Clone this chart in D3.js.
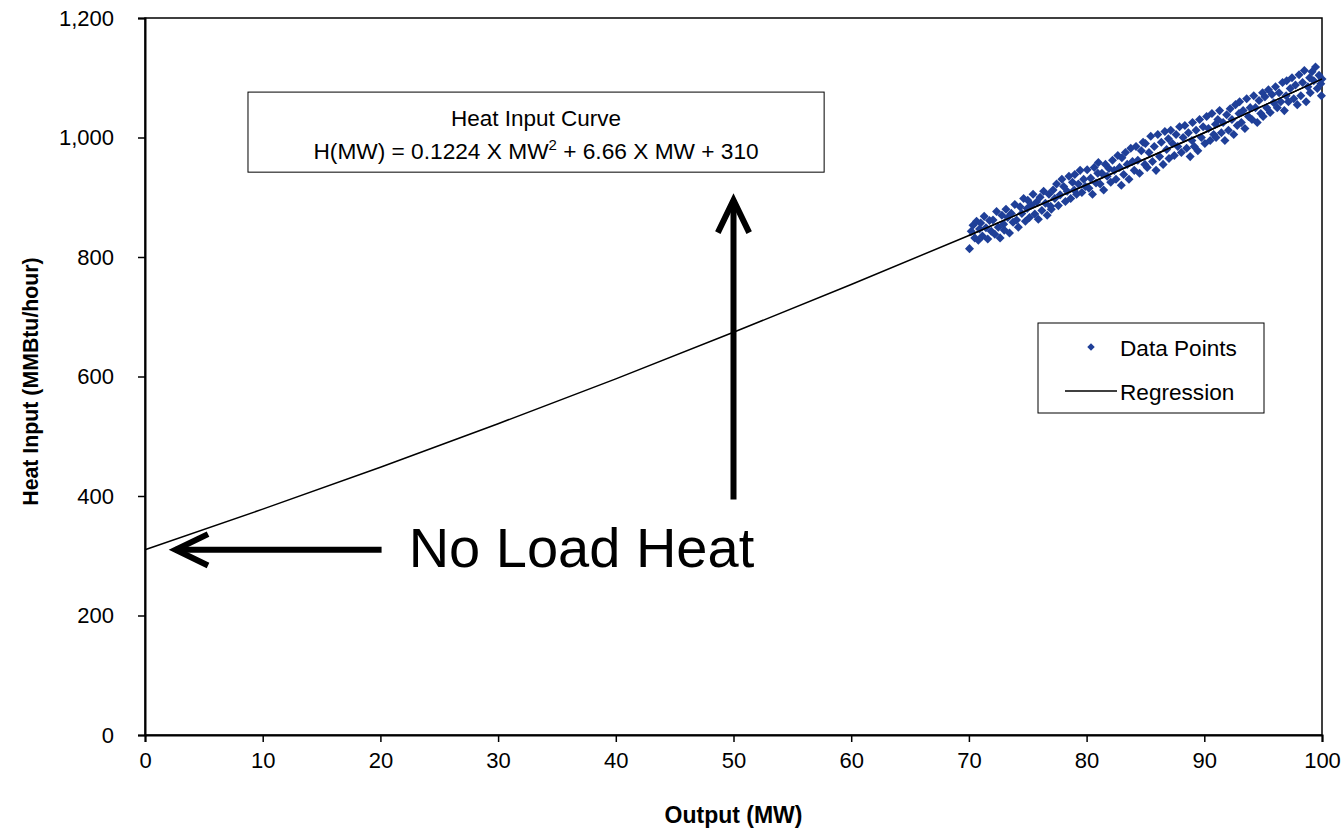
<!DOCTYPE html>
<html><head><meta charset="utf-8">
<script src="https://cdn.jsdelivr.net/npm/d3@7/dist/d3.min.js"></script>
<style>
html,body{margin:0;padding:0;background:#fff;}
text{font-family:"Liberation Sans",Arial,sans-serif;fill:#000;}
</style></head>
<body><svg id="c" width="1344" height="830"></svg>
<script>
// ---- data ----
const xTicks = [0,10,20,30,40,50,60,70,80,90,100];
const yTicks = [0,200,400,600,800,1000,1200];
const regressionMW   = [0,10,20,30,40,50,60,70,80,90,100];
const regressionHeat = [310,378,448,521,596,674,754,836,921,1008,1098];
const pointsMW = [
70.05,70.2,70.35,70.5,70.65,70.8,70.9,
71.0,71.15,71.3,71.45,71.6,71.75,71.9,
72.05,72.2,72.35,72.5,72.65,72.8,72.95,
73.0,73.15,73.3,73.45,73.6,73.75,73.9,
74.05,74.2,74.35,74.5,74.65,74.8,74.95,
75.0,75.15,75.3,75.45,75.6,75.75,75.9,
76.05,76.2,76.35,76.5,76.65,76.8,76.95,
77.0,77.15,77.3,77.45,77.6,77.75,77.9,
78.05,78.2,78.35,78.5,78.65,78.8,78.95,
79.0,79.15,79.3,79.45,79.6,79.75,79.9,
80.05,80.2,80.35,80.5,80.65,80.8,80.95,
81.0,81.15,81.3,81.45,81.6,81.75,81.9,
82.05,82.2,82.35,82.5,82.65,82.8,82.95,
83.0,83.15,83.3,83.45,83.6,83.75,83.9,
84.05,84.2,84.35,84.5,84.65,84.8,84.95,
85.0,85.15,85.3,85.45,85.6,85.75,85.9,
86.05,86.2,86.35,86.5,86.65,86.8,86.95,
87.0,87.15,87.3,87.45,87.6,87.75,87.9,
88.05,88.2,88.35,88.5,88.65,88.8,88.95,
89.0,89.15,89.3,89.45,89.6,89.75,89.9,
90.05,90.2,90.35,90.5,90.65,90.8,90.95,
91.0,91.15,91.3,91.45,91.6,91.75,91.9,
92.05,92.2,92.35,92.5,92.65,92.8,92.95,
93.0,93.15,93.3,93.45,93.6,93.75,93.9,
94.05,94.2,94.35,94.5,94.65,94.8,94.95,
95.0,95.15,95.3,95.45,95.6,95.75,95.9,
96.05,96.2,96.35,96.5,96.65,96.8,96.95,
97.0,97.15,97.3,97.45,97.6,97.75,97.9,
98.05,98.2,98.35,98.5,98.65,98.8,98.95,
99.0,99.15,99.3,99.45,99.6,99.75,99.9,99.95,100.0
];
const pointsHeat = [
814,843,853,832,860,828,847,
857,835,868,849,830,861,843,
862,838,876,850,832,870,855,
845,880,866,840,873,858,888,
862,850,884,873,898,860,881,
895,866,887,905,872,892,863,
900,878,910,890,870,905,885,
880,912,898,922,886,904,930,
918,893,910,935,898,925,912,
938,905,922,945,908,930,918,
946,915,932,905,950,924,940,
958,922,940,912,955,935,948,
925,962,945,930,970,950,920,
966,938,975,955,930,982,960,
945,985,962,940,978,992,955,
990,950,975,1002,960,985,945,
1005,968,992,955,1010,980,998,
965,1012,990,970,1005,985,1018,
975,1000,1020,982,1008,968,995,
1025,985,1012,978,1030,1000,1018,
990,1035,1015,995,1040,1005,1022,
1000,1030,1045,1008,1025,995,1038,
1012,1048,1030,1005,1055,1020,1040,
1060,1025,1045,1015,1065,1035,1050,
1030,1070,1050,1025,1062,1040,1075,
1035,1068,1050,1080,1042,1072,1058,
1085,1050,1075,1060,1092,1045,1070,
1095,1060,1082,1100,1065,1088,1055,
1105,1070,1092,1112,1060,1085,1100,
1075,1110,1095,1118,1082,1104,1090,1070,1098
];
const titleLines = ["Heat Input Curve"];
const legendLabels = ["Data Points","Regression"];

// ---- chart ----
const svg = d3.select("#c");
const L=145, R=1322, T=18, B=735;
const x = d3.scaleLinear().domain([0,100]).range([L,R]);
const y = d3.scaleLinear().domain([0,1200]).range([B,T]);
const blue = "#1F3F98";
const FF = "Liberation Sans, Arial, sans-serif";

// frame
svg.append("rect").attr("x",L).attr("y",T).attr("width",R-L).attr("height",B-T)
  .attr("fill","none").attr("stroke","#000").attr("stroke-width",1.5);

// axes
const yAxis = svg.append("g").attr("transform",`translate(${L},0)`)
  .call(d3.axisLeft(y).tickValues(yTicks).tickSize(7).tickPadding(24).tickFormat(d3.format(",")));
const xAxis = svg.append("g").attr("transform",`translate(0,${B})`)
  .call(d3.axisBottom(x).tickValues(xTicks).tickSize(7).tickPadding(10).tickFormat(d3.format("d")));
[yAxis,xAxis].forEach(a=>{
  a.selectAll(".domain").attr("stroke","#000").attr("stroke-width",2);
  a.selectAll(".tick line").attr("stroke","#000").attr("stroke-width",1.5);
  a.selectAll("text").attr("font-size",22).attr("font-family",FF).attr("fill","#000");
});

// axis titles
svg.append("text").attr("x",(L+R)/2).attr("y",823).attr("text-anchor","middle")
  .attr("font-size",23).attr("font-weight","bold").text("Output (MW)");
svg.append("text").attr("transform",`translate(38,${(T+B)/2 + 5}) rotate(-90)`).attr("text-anchor","middle")
  .attr("font-size",21.3).attr("font-weight","bold").text("Heat Input (MMBtu/hour)");

// regression line
const reg = regressionMW.map((d,i)=>[d,regressionHeat[i]]);
const lineGen = d3.line().x(d=>x(d[0])).y(d=>y(d[1])).curve(d3.curveMonotoneX);
svg.append("path").datum(reg).attr("d",lineGen)
  .attr("fill","none").attr("stroke","#000").attr("stroke-width",1.5);

// points
const diamond = d3.symbol().type(d3.symbolDiamond2).size(52);
svg.append("g").selectAll("path").data(pointsMW.map((d,i)=>[d,pointsHeat[i]])).join("path")
  .attr("d",diamond).attr("transform",d=>`translate(${x(d[0])},${y(d[1])})`)
  .attr("fill",blue);
svg.append("path").datum(reg.filter(d=>d[0]>=70)).attr("d",lineGen)
  .attr("fill","none").attr("stroke","#000").attr("stroke-width",1.5);

// equation box
const bx0=x(8.75), bx1=x(57.7), by0=y(1076), by1=y(942);
svg.append("rect").attr("x",bx0).attr("y",by0).attr("width",bx1-bx0).attr("height",by1-by0)
  .attr("fill","#fff").attr("stroke","#000").attr("stroke-width",1);
svg.append("text").attr("x",(bx0+bx1)/2).attr("y",by0+34).attr("text-anchor","middle")
  .attr("font-size",22.5).text(titleLines[0]);
const eq = svg.append("text").attr("x",(bx0+bx1)/2).attr("y",by0+67).attr("text-anchor","middle").attr("font-size",22.7);
eq.append("tspan").text("H(MW) = 0.1224 X MW");
eq.append("tspan").attr("font-size",15).attr("dy",-9).text("2");
eq.append("tspan").attr("dy",9).text(" + 6.66 X MW + 310");

// legend
const lx0=1038, ly0=323, lx1=1264, ly1=413;
svg.append("rect").attr("x",lx0).attr("y",ly0).attr("width",lx1-lx0).attr("height",ly1-ly0)
  .attr("fill","#fff").attr("stroke","#000").attr("stroke-width",1);
svg.append("path").attr("d",d3.symbol().type(d3.symbolDiamond2).size(36)).attr("transform","translate(1091,347)").attr("fill",blue);
svg.append("text").attr("x",1120).attr("y",356).attr("font-size",22.6).text(legendLabels[0]);
svg.append("line").attr("x1",1065).attr("x2",1117).attr("y1",391).attr("y2",391).attr("stroke","#000").attr("stroke-width",1.5);
svg.append("text").attr("x",1120).attr("y",400).attr("font-size",22.6).text(legendLabels[1]);

// arrows
const aw = 6;
function arrow(x1,y1,x2,y2){
  svg.append("line").attr("x1",x1).attr("y1",y1).attr("x2",x2).attr("y2",y2)
    .attr("stroke","#000").attr("stroke-width",aw);
  const ang = Math.atan2(y2-y1,x2-x1), hl=36, ha=0.45;
  const p1=[x2-hl*Math.cos(ang-ha), y2-hl*Math.sin(ang-ha)];
  const p2=[x2-hl*Math.cos(ang+ha), y2-hl*Math.sin(ang+ha)];
  svg.append("path").attr("d",`M${p1[0]},${p1[1]}L${x2},${y2}L${p2[0]},${p2[1]}`)
    .attr("fill","none").attr("stroke","#000").attr("stroke-width",aw).attr("stroke-linejoin","miter");
}
arrow(x(20.1),y(310),x(2.6),y(310));
arrow(x(50),y(394),x(50),y(895));
svg.append("text").attr("x",x(22.4)).attr("y",y(282)).attr("font-size",56).text("No Load Heat");
</script></body></html>
